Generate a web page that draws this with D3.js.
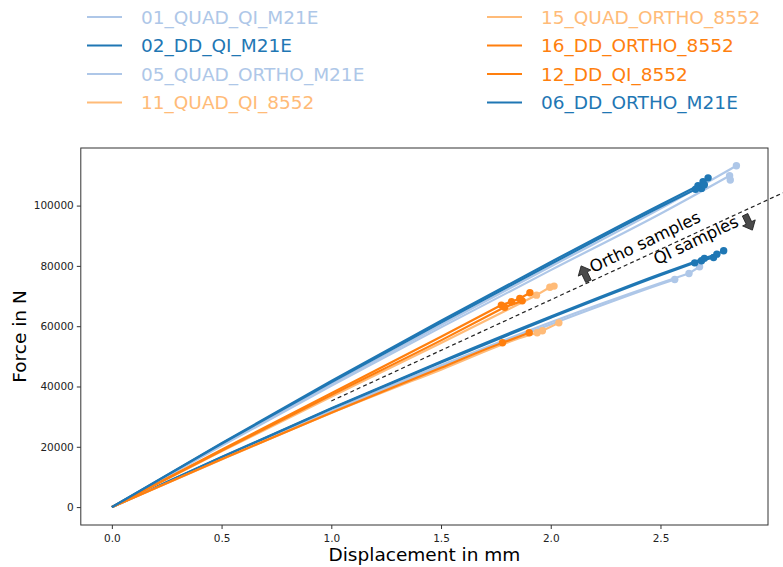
<!DOCTYPE html>
<html>
<head>
<meta charset="utf-8">
<script src="https://cdn.jsdelivr.net/npm/d3@7"></script>
<style>
  body { margin: 0; background: #fff; }
  text { font-family: "DejaVu Sans", sans-serif; }
</style>
</head>
<body>
<script>
// canvas
var w = 783;
var h = 567;

// legend order (matplotlib ncol=2 -> column wise)
var labels = ["01_QUAD_QI_M21E", "02_DD_QI_M21E", "05_QUAD_ORTHO_M21E", "11_QUAD_QI_8552",
              "15_QUAD_ORTHO_8552", "16_DD_ORTHO_8552", "12_DD_QI_8552", "06_DD_ORTHO_M21E"];
var colors = ["#aec7e8", "#1f77b4", "#aec7e8", "#ffbb78",
              "#ffbb78", "#ff7f0e", "#ff7f0e", "#1f77b4"];

// each specimen: [loading path, failure points (with markers)]
var s01 = [
  [[[0, 0], [0.5, 16000], [1, 31600], [1.5, 46600], [2, 60600], [2.5, 73900]], [[2.565, 75500]]],
  [[[0, 0], [0.5, 16100], [1, 31900], [1.5, 47000], [2, 61300], [2.5, 74300]], [[2.63, 77500], [2.678, 79700]]]
];
var s02 = [
  [[[0, 0], [0.5, 16500], [1, 32600], [1.5, 48000], [2, 62800], [2.5, 76900]], [[2.656, 81000], [2.687, 81700], [2.742, 82800]]],
  [[[0, 0], [0.5, 16600], [1, 32800], [1.5, 48300], [2, 63200], [2.5, 77300]], [[2.7, 82500], [2.757, 83900], [2.788, 85000]]]
];
var s05 = [
  [[[0, 0], [0.5, 20600], [1, 40700], [1.5, 60400], [2, 79800], [2.5, 99000]], [[2.846, 113200]]],
  [[[0, 0], [0.5, 20300], [1, 40200], [1.5, 59600], [2, 78600], [2.5, 97300]], [[2.815, 109900], [2.818, 108500]]]
];
var s11 = [
  [[[0, 0], [0.5, 15800], [1, 31200], [1.5, 45600], [1.9, 57000]], [[1.938, 57800], [1.962, 58500], [2.037, 61100]]]
];
var s15 = [
  [[[0, 0], [0.5, 18500], [1, 36600], [1.5, 54400], [1.9, 69000]], [[1.935, 70300], [1.996, 72900], [2.015, 73300]]]
];
var s16 = [
  [[[0, 0], [0.5, 19000], [1, 37800], [1.5, 56500]], [[1.775, 67000], [1.821, 68100], [1.859, 69200], [1.905, 71100]]],
  [[[0, 0], [0.5, 18700], [1, 37200], [1.5, 55300]], [[1.79, 66300], [1.87, 68400]]]
];
var s12 = [
  [[[0, 0], [0.5, 15900], [1, 31300], [1.5, 46200], [1.75, 53700]], [[1.78, 54500], [1.902, 57800]]]
];
var s06 = [
  [[[0, 0], [0.5, 21200], [1, 41800], [1.5, 61800], [2, 81300], [2.5, 100300]], [[2.671, 106600], [2.687, 105700], [2.694, 107900], [2.717, 109200]]],
  [[[0, 0], [0.5, 21000], [1, 41400], [1.5, 61200], [2, 80600], [2.5, 99600]], [[2.66, 105400], [2.70, 106900]]]
];
var allSeries = [s01, s02, s05, s11, s15, s16, s12, s06];

// separating dashed line and tick values
var divider = [[1.0, 35200], [3.12, 106300]];
var xTicks = [0, 0.5, 1.0, 1.5, 2.0, 2.5];
var yTicks = [0, 20000, 40000, 60000, 80000, 100000];

// plot box (note: "top" is reserved on window)
var plotLeft = 80.8, plotRight = 768, plotTop = 148, plotBottom = 525;

var xScale = d3.scaleLinear().domain([-0.1415, 2.99]).range([plotLeft, plotRight]);
var yScale = d3.scaleLinear().domain([-5940, 119100]).range([plotBottom, plotTop]);

var svg = d3.select("body").append("svg").attr("width", w).attr("height", h);
svg.append("rect").attr("width", w).attr("height", h).attr("fill", "#fff");

var line = d3.line()
  .x(function (d) { return xScale(d[0]); })
  .y(function (d) { return yScale(d[1]); });
var smooth = d3.line()
  .curve(d3.curveMonotoneX)
  .x(function (d) { return xScale(d[0]); })
  .y(function (d) { return yScale(d[1]); });

// data: smooth loading branch, straight segments between failure points
allSeries.forEach(function (specs, i) {
  var g = svg.append("g");
  specs.forEach(function (sp) {
    var loadPath = sp[0].concat([sp[1][0]]);
    g.append("path")
      .attr("d", smooth(loadPath) + (sp[1].length > 1 ? line(sp[1]) : ""))
      .attr("fill", "none")
      .attr("stroke", colors[i])
      .attr("stroke-width", 2.2)
      .attr("stroke-linejoin", "round");
    g.selectAll(null)
      .data(sp[1])
      .enter()
      .append("circle")
      .attr("cx", function (d) { return xScale(d[0]); })
      .attr("cy", function (d) { return yScale(d[1]); })
      .attr("r", 3.7)
      .attr("fill", colors[i]);
  });
});

// dashed divider (not clipped, runs past the frame)
svg.append("path")
  .attr("d", line(divider))
  .attr("fill", "none")
  .attr("stroke", "#222")
  .attr("stroke-width", 1.2)
  .attr("stroke-dasharray", "4,3");

// axes
var xAxis = d3.axisBottom(xScale).tickValues(xTicks).tickFormat(d3.format(".1f")).tickSize(4).tickPadding(6);
var yAxis = d3.axisLeft(yScale).tickValues(yTicks).tickFormat(d3.format("d")).tickSize(4).tickPadding(3);

var gx = svg.append("g").attr("transform", "translate(0," + plotBottom + ")").call(xAxis);
var gy = svg.append("g").attr("transform", "translate(" + plotLeft + ",0)").call(yAxis);
[gx, gy].forEach(function (g) {
  g.select(".domain").remove();
  g.selectAll("line").attr("stroke", "#333");
  g.selectAll("text").attr("fill", "#222").style("font-size", "10.5px").style("font-family", "DejaVu Sans");
});

// frame
svg.append("rect")
  .attr("x", plotLeft).attr("y", plotTop)
  .attr("width", plotRight - plotLeft).attr("height", plotBottom - plotTop)
  .attr("fill", "none").attr("stroke", "#333").attr("stroke-width", 1);

// axis titles
svg.append("text")
  .attr("x", (plotLeft + plotRight) / 2).attr("y", 561)
  .attr("text-anchor", "middle")
  .style("font-size", "18.5px")
  .text("Displacement in mm");

svg.append("text")
  .attr("transform", "translate(26," + (plotTop + plotBottom) / 2 + ") rotate(-90)")
  .attr("text-anchor", "middle")
  .style("font-size", "18.5px")
  .text("Force in N");

// annotations
var angle = -25.5;
svg.append("text")
  .attr("transform", "translate(593,273) rotate(" + angle + ")")
  .style("font-size", "16.5px")
  .text("Ortho samples");
svg.append("text")
  .attr("transform", "translate(657,265) rotate(" + angle + ")")
  .style("font-size", "16.5px")
  .text("QI samples");

var arrowShape = "M0,-9 L-7,-1 L-3,-1 L-3,8 L3,8 L3,-1 L7,-1 Z";
svg.append("path")
  .attr("d", arrowShape)
  .attr("transform", "translate(585,274) rotate(" + angle + ")")
  .attr("fill", "#4a4a4a").attr("stroke", "#222").attr("stroke-width", 0.8);
svg.append("path")
  .attr("d", arrowShape)
  .attr("transform", "translate(748.5,222) rotate(" + angle + ") scale(1,-1)")
  .attr("fill", "#4a4a4a").attr("stroke", "#222").attr("stroke-width", 0.8);

// legend: two columns, four rows
var legend = svg.append("g");
labels.forEach(function (lab, i) {
  var col = Math.floor(i / 4), row = i % 4;
  var lx = col === 0 ? 87 : 487;
  var ly = 17 + row * 28.5;
  legend.append("line")
    .attr("x1", lx).attr("x2", lx + 35)
    .attr("y1", ly).attr("y2", ly)
    .attr("stroke", colors[i]).attr("stroke-width", 2);
  legend.append("text")
    .attr("x", lx + 54).attr("y", ly)
    .attr("dy", "0.36em")
    .attr("fill", colors[i])
    .style("font-size", "18.5px")
    .text(lab);
});
</script>
</body>
</html>
